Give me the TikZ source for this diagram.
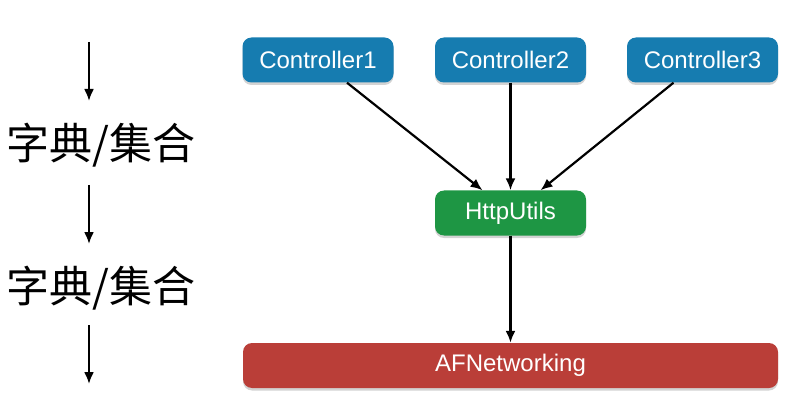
\documentclass[tikz,border=0pt]{standalone}
\usepackage{fontspec}
\setmainfont{Liberation Sans}
\newfontfamily\cjk{Noto Sans CJK SC}
\usetikzlibrary{arrows.meta,shadows}
\definecolor{ctrlblue}{RGB}{22,124,176}
\definecolor{utilgreen}{RGB}{30,150,68}
\definecolor{netred}{RGB}{186,62,56}
\tikzset{
  boxnode/.style={rounded corners=9pt, minimum height=45pt, inner sep=0pt, text=white,
    font=\fontsize{24pt}{28pt}\selectfont,
    drop shadow={shadow xshift=0pt, shadow yshift=-2.5pt, opacity=0.35}},
  ctrl/.style={boxnode, fill=ctrlblue, minimum width=151pt},
  util/.style={boxnode, fill=utilgreen, minimum width=151pt},
  net/.style={boxnode, fill=netred, minimum width=535pt},
  conn/.style={line width=2.2pt, -{Latex[length=12pt,width=10pt]}},
  lbl/.style={font=\cjk\fontsize{43pt}{46pt}\selectfont, inner sep=0pt}
}
\begin{document}
\begin{tikzpicture}[x=1pt,y=-1pt]
\useasboundingbox (0,0) rectangle (800,414);
\node[ctrl] (c1) at (318,60) {Controller1};
\node[ctrl] (c2) at (510.5,60) {Controller2};
\node[ctrl] (c3) at (702.5,60) {Controller3};
\node[util] (h) at (510.5,213) {HttpUtils};
\node[net] (af) at (510.5,365.5) {AFNetworking};
\draw[conn] ([xshift=29pt]c1.south) -- ([xshift=-28pt]h.north);
\draw[conn] (c2.south) -- (h.north);
\draw[conn] ([xshift=-29pt]c3.south) -- ([xshift=30pt]h.north);
\draw[conn] (h.south) -- (af.north);
\node[lbl] (t1) at (101,145) {字典/集合};
\node[lbl] (t2) at (101,288) {字典/集合};
\coordinate (a0) at (89,42);
\coordinate (a1) at (89,101);
\coordinate (b0) at (89,185);
\coordinate (b1) at (89,244);
\coordinate (d0) at (89,325);
\coordinate (d1) at (89,384);
\draw[conn] (a0) -- (a1);
\draw[conn] (b0) -- (b1);
\draw[conn] (d0) -- (d1);
\end{tikzpicture}
\end{document}
